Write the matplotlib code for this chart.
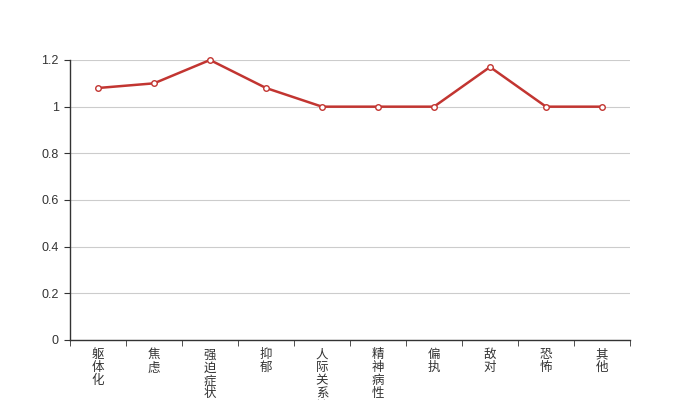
import matplotlib.pyplot as plt
import numpy as np

plt.rcParams['font.family'] = ['Noto Sans CJK SC', 'DejaVu Sans']

categories = ['躯体化', '焦虑', '强迫症状', '抑郁', '人际关系敏感',
              '精神病性', '偏执', '敌对', '恐怖', '其他']
values = [1.08, 1.10, 1.20, 1.08, 1.00, 1.00, 1.00, 1.17, 1.00, 1.00]
y_ticks = [0, 0.2, 0.4, 0.6, 0.8, 1, 1.2]
y_labels = ['0', '0.2', '0.4', '0.6', '0.8', '1', '1.2']

fig = plt.figure(figsize=(7, 4), dpi=100)
ax = fig.add_axes([0.1, 0.15, 0.8, 0.7])

x = np.arange(len(categories))
ax.plot(x, values, color='#c23531', linewidth=1.8, marker='o', markersize=4,
        markerfacecolor='white', markeredgecolor='#c23531', markeredgewidth=1,
        zorder=3, clip_on=False)

ax.set_xlim(-0.5, len(categories) - 0.5)
ax.set_ylim(0, 1.2)

# y axis
ax.set_yticks(y_ticks)
ax.set_yticklabels(y_labels, fontsize=9, color='#333333',
                   family=['Liberation Sans', 'DejaVu Sans'])
ax.yaxis.grid(True, color='#cccccc', linewidth=0.8)
ax.set_axisbelow(True)

# x axis: labels centred, tick marks on boundaries
ax.set_xticks(x)
ax.set_xticklabels(['\n'.join(c) for c in categories], fontsize=9,
                   color='#333333', va='top', linespacing=1.0)
ax.tick_params(axis='x', which='major', length=0, pad=6)
ax.set_xticks(np.arange(len(categories) + 1) - 0.5, minor=True)
ax.tick_params(axis='x', which='minor', length=4, color='#333333')
ax.tick_params(axis='y', length=4, color='#333333', pad=4)

for s in ['top', 'right']:
    ax.spines[s].set_visible(False)
for s in ['left', 'bottom']:
    ax.spines[s].set_color('#333333')
    ax.spines[s].set_linewidth(1)

fig.savefig('out.png', dpi=100)
